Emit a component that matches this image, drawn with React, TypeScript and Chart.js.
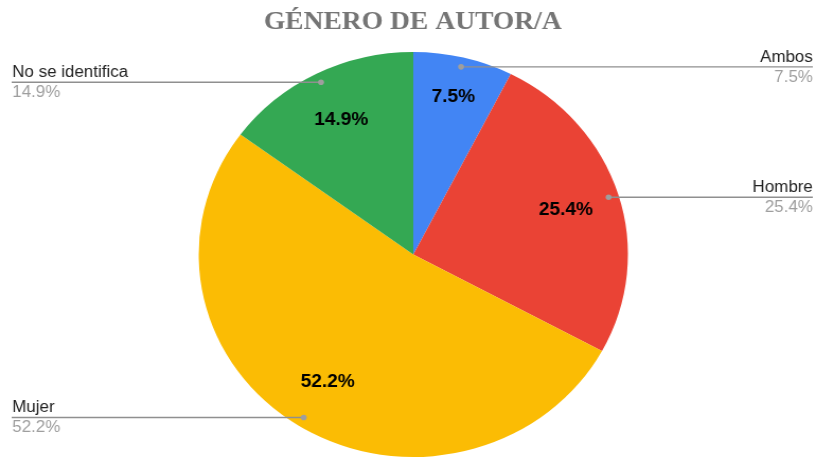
import React, { useEffect, useRef } from "react";
import { Chart, registerables } from "chart.js";

Chart.register(...registerables);

const chartTitle = "GÉNERO DE AUTOR/A";
const categories = ["Ambos", "Hombre", "Mujer", "No se identifica"];
const values = [7.5, 25.4, 52.2, 14.9];
const sliceColors = ["#4285F4", "#EA4335", "#FBBC04", "#34A853"];
const percentLabels = values.map((v) => v.toFixed(1) + "%");

const CW = 770;
const CH = 460;
const SX = 816 / CW;

const labelPlugin = {
  id: "pieLabels",
  afterDatasetsDraw(chart: any) {
    const ctx = chart.ctx;
    const meta = chart.getDatasetMeta(0);
    ctx.save();
    // title
    ctx.font = 'bold 26px "Liberation Serif", "Times New Roman", serif';
    ctx.fillStyle = "#757575";
    ctx.textAlign = "center";
    ctx.textBaseline = "alphabetic";
    ctx.fillText(chartTitle, 389.5, 29);

    meta.data.forEach((arc: any, i: number) => {
      const { x, y, startAngle, endAngle, outerRadius } = arc.getProps(
        ["x", "y", "startAngle", "endAngle", "outerRadius"],
        true
      );
      const mid = (startAngle + endAngle) / 2;
      const frac = (endAngle - startAngle) / (Math.PI * 2);
      const f = frac < 0.1 ? 0.8 : 0.745;
      // inner label
      ctx.font = 'bold 18px "Liberation Sans", Arial, sans-serif';
      ctx.fillStyle = "#000";
      ctx.textAlign = "center";
      ctx.textBaseline = "middle";
      ctx.fillText(
        percentLabels[i],
        x + Math.cos(mid) * outerRadius * f,
        y + Math.sin(mid) * outerRadius * f
      );
      // leader
      const dx = x + Math.cos(mid) * outerRadius * 0.953;
      const dy = y + Math.sin(mid) * outerRadius * 0.953;
      const right = Math.cos(mid) >= 0;
      const edge = right ? 767 : 11;
      ctx.strokeStyle = "#8f8f8f";
      ctx.lineWidth = 1.4;
      ctx.beginPath();
      ctx.moveTo(dx, dy);
      ctx.lineTo(edge, dy);
      ctx.stroke();
      ctx.fillStyle = "#9e9e9e";
      ctx.beginPath();
      ctx.arc(dx, dy, 2.8, 0, Math.PI * 2);
      ctx.fill();
      ctx.font = '16px "Liberation Sans", Arial, sans-serif';
      ctx.textAlign = right ? "right" : "left";
      ctx.textBaseline = "alphabetic";
      const tx = right ? 767 : 11.5;
      ctx.fillStyle = "#222";
      ctx.fillText(categories[i], tx, dy - 5);
      ctx.fillStyle = "#9e9e9e";
      ctx.fillText(percentLabels[i], tx, dy + 15);
    });
    ctx.restore();
  },
};

export default function App() {
  const ref = useRef<HTMLCanvasElement | null>(null);
  useEffect(() => {
    if (!ref.current) return;
    const chart = new Chart(ref.current, {
      type: "pie",
      data: {
        labels: categories,
        datasets: [
          {
            data: values,
            backgroundColor: sliceColors,
            borderWidth: 0,
            hoverOffset: 0,
            offset: 0,
          },
        ],
      },
      options: {
        responsive: false,
        animation: false,
        devicePixelRatio: 1,
        layout: { padding: { top: 52, bottom: 3, left: 10, right: 0 } },
        plugins: {
          legend: { display: false },
          tooltip: { enabled: false },
          title: { display: false },
        },
      },
      plugins: [labelPlugin],
    } as any);
    return () => chart.destroy();
  }, []);
  return (
    <div
      style={{
        position: "fixed",
        left: 0,
        top: 0,
        width: 816,
        height: 460,
        overflow: "hidden",
        background: "#fff",
      }}
    >
      <div
        style={{
          width: CW,
          height: CH,
          transform: `scaleX(${SX})`,
          transformOrigin: "0 0",
        }}
      >
        <canvas
          ref={ref}
          width={CW}
          height={CH}
          style={{ display: "block", width: CW, height: CH }}
        />
      </div>
    </div>
  );
}
